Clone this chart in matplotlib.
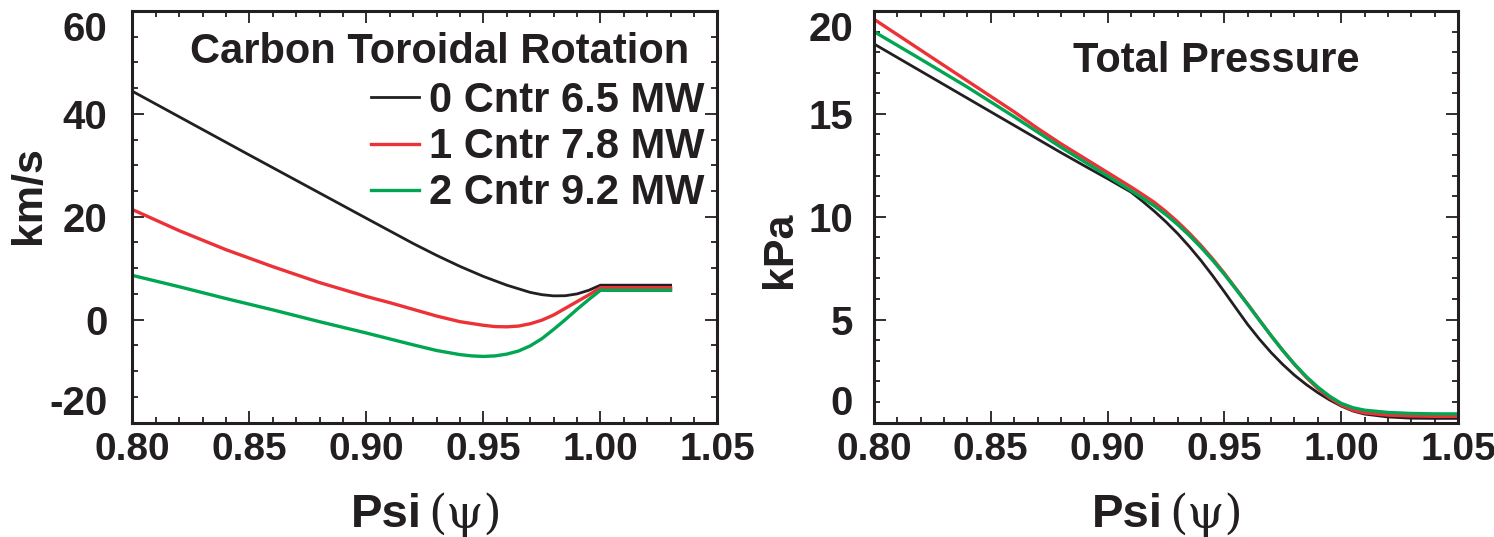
import matplotlib
matplotlib.use("Agg")
import matplotlib.pyplot as plt
from matplotlib.ticker import MultipleLocator, FormatStrFormatter

plt.rcParams['font.family'] = ['Liberation Sans', 'DejaVu Sans']
plt.rcParams['font.weight'] = 'bold'

INK = '#231f20'
RED = '#ec3237'
GREEN = '#00a651'

# Carbon toroidal rotation (km/s)
psi_black = [0.80, 0.85, 0.90, 0.92, 0.93, 0.94, 0.95, 0.96, 0.97, 0.975, 0.98,
             0.985, 0.99, 0.995, 1.00, 1.03]
rot_black = [44.4, 32.0, 19.7, 14.8, 12.5, 10.35, 8.4, 6.7, 5.3, 4.85, 4.62,
             4.65, 5.0, 5.7, 6.7, 6.7]

psi_red = [0.80, 0.82, 0.84, 0.86, 0.88, 0.90, 0.91, 0.92, 0.93, 0.94, 0.95, 0.955,
           0.96, 0.965, 0.97, 0.975, 0.98, 0.985, 0.99, 0.995, 1.00, 1.03]
rot_red = [21.4, 17.3, 13.6, 10.3, 7.2, 4.5, 3.3, 2.0, 0.7, -0.4, -1.1, -1.35,
           -1.4, -1.25, -0.8, -0.1, 0.9, 2.2, 3.5, 4.8, 6.2, 6.2]

psi_green = [0.80, 0.82, 0.84, 0.86, 0.88, 0.90, 0.92, 0.93, 0.94, 0.945, 0.95, 0.955,
             0.96, 0.965, 0.97, 0.975, 0.98, 0.985, 0.99, 0.995, 1.00, 1.03]
rot_green = [8.6, 6.4, 4.1, 1.9, -0.4, -2.6, -4.9, -6.0, -6.8, -7.05, -7.15, -7.05,
             -6.7, -6.1, -5.1, -3.7, -1.9, 0.0, 2.0, 3.9, 5.7, 5.7]

labels = ['0 Cntr 6.5 MW', '1 Cntr 7.8 MW', '2 Cntr 9.2 MW']

# Total pressure (kPa)
psi_p = [0.80, 0.81, 0.82, 0.83, 0.84, 0.85, 0.86, 0.87, 0.88, 0.89, 0.90, 0.91, 0.915,
         0.92, 0.925, 0.93, 0.935, 0.94, 0.945, 0.95, 0.955, 0.96, 0.965, 0.97, 0.975,
         0.98, 0.985, 0.99, 0.995, 1.00, 1.005, 1.01, 1.02, 1.03, 1.04, 1.05]
p_black = [18.4, 17.74, 17.08, 16.42, 15.76, 15.1, 14.44, 13.78, 13.12, 12.48, 11.85, 11.2, 10.75,
           10.27, 9.75, 9.18, 8.55, 7.87, 7.13, 6.35, 5.55, 4.76, 4.05, 3.4, 2.82,
           2.3, 1.85, 1.45, 1.1, 0.8, 0.56, 0.41, 0.27, 0.21, 0.2, 0.2]
p_red = [19.6, 18.85, 18.1, 17.35, 16.6, 15.85, 15.1, 14.3, 13.55, 12.85, 12.15, 11.45, 11.08,
         10.7, 10.25, 9.75, 9.2, 8.6, 7.95, 7.25, 6.5, 5.75, 4.98, 4.22, 3.5,
         2.82, 2.2, 1.65, 1.2, 0.85, 0.6, 0.47, 0.36, 0.32, 0.3, 0.3]
p_green = [19.0, 18.33, 17.66, 16.98, 16.3, 15.58, 14.86, 14.12, 13.38, 12.68, 11.98, 11.27, 10.91,
           10.53, 10.1, 9.62, 9.09, 8.51, 7.88, 7.2, 6.47, 5.73, 4.97, 4.22, 3.5,
           2.84, 2.24, 1.72, 1.28, 0.93, 0.72, 0.6, 0.49, 0.44, 0.42, 0.42]

fig = plt.figure(figsize=(14.94, 5.37), dpi=100)
ax1 = fig.add_axes([0.0886, 0.2132, 0.3916, 0.7663])
ax2 = fig.add_axes([0.585, 0.2132, 0.3909, 0.7663])


def style(ax, ymaj, ymin, fmt, pad):
    ax.set_xlim(0.80, 1.05)
    ax.xaxis.set_major_locator(MultipleLocator(0.05))
    ax.xaxis.set_minor_locator(MultipleLocator(0.01))
    ax.xaxis.set_major_formatter(FormatStrFormatter('%.2f'))
    ax.yaxis.set_major_locator(MultipleLocator(ymaj))
    ax.yaxis.set_minor_locator(MultipleLocator(ymin))
    ax.yaxis.set_major_formatter(FormatStrFormatter(fmt))
    ax.tick_params(which='both', direction='in', top=True, right=True,
                   colors=INK, width=1.3)
    ax.tick_params(which='major', length=8.5)
    ax.tick_params(which='minor', length=4.5)
    ax.tick_params(axis='x', which='major', labelsize=28, pad=7)
    ax.tick_params(axis='y', which='major', labelsize=29, pad=pad)
    for s in ax.spines.values():
        s.set_linewidth(2.2)
        s.set_color(INK)
    for lab in ax.get_xticklabels() + ax.get_yticklabels():
        lab.set_fontweight('bold')
        lab.set_color(INK)
    ax.text(0.494, -0.225, 'Psi', transform=ax.transAxes, ha='right', va='center',
            fontsize=34, fontweight='bold', color=INK)
    ax.text(0.506, -0.225, '(\u03c8)', transform=ax.transAxes, ha='left', va='center',
            fontsize=34, fontweight='normal', color=INK, family=['DejaVu Serif'])


ax1.plot(psi_black, rot_black, color=INK, lw=2.0, label=labels[0])
ax1.plot(psi_red, rot_red, color=RED, lw=2.4, label=labels[1])
ax1.plot(psi_green, rot_green, color=GREEN, lw=2.4, label=labels[2])
ax1.set_ylim(-20, 60)
style(ax1, 20, 5, '%d', 18)
ax1.set_ylabel('km/s', fontsize=31, fontweight='bold', color=INK)
ax1.yaxis.set_label_coords(-0.142, 0.553)
ax1.text(0.525, 0.90, 'Carbon Toroidal Rotation', transform=ax1.transAxes,
         ha='center', va='center', fontsize=30, fontweight='bold', color=INK)
ax1.legend(loc='upper right', bbox_to_anchor=(0.978, 0.83), frameon=False,
           fontsize=30, handlelength=1.15, handletextpad=0.25, labelspacing=0.15,
           borderpad=0, borderaxespad=0, labelcolor=INK)

ax2.plot(psi_p, p_black, color=INK, lw=2.0)
ax2.plot(psi_p, p_red, color=RED, lw=2.4)
ax2.plot(psi_p, p_green, color=GREEN, lw=2.4)
ax2.set_ylim(0, 20)
style(ax2, 5, 1, '%d', 15)
ax2.set_ylabel('kPa', fontsize=31, fontweight='bold', color=INK)
ax2.yaxis.set_label_coords(-0.127, 0.42)
ax2.text(0.586, 0.878, 'Total Pressure', transform=ax2.transAxes,
         ha='center', va='center', fontsize=30, fontweight='bold', color=INK)

# end labels sit inside the axis range like in the original
fig.canvas.draw()
for ax in (ax1, ax2):
    lo, hi = ax.get_ylim()
    for t in ax.yaxis.get_major_ticks():
        if abs(t.get_loc() - lo) < 1e-6:
            t.label1.set_verticalalignment('bottom')
        elif abs(t.get_loc() - hi) < 1e-6:
            t.label1.set_verticalalignment('top')

fig.savefig('out.png', dpi=100)
